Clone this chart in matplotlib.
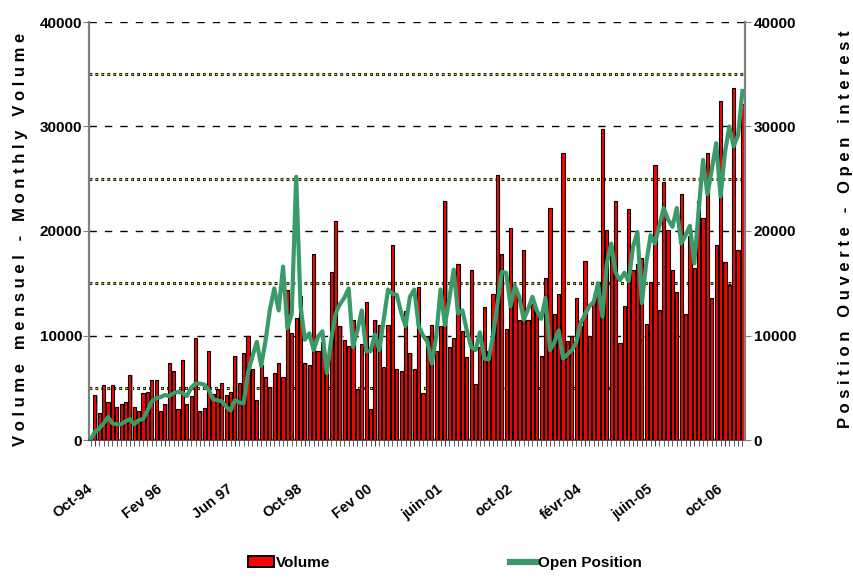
import numpy as np
import pandas as pd
import matplotlib
matplotlib.use("Agg")
import matplotlib.pyplot as plt
from matplotlib.patches import Patch
from matplotlib.lines import Line2D

RED, GREEN, YEL, AXGREY = "#ff0000", "#3a9a6a", "#f4f400", "#808080"
FONT = "Liberation Sans"
plt.rcParams["lines.scale_dashes"] = False

# monthly categories, Sep-94 (contract start, zero) to Feb-07
months = pd.period_range("1994-09", "2007-02", freq="M").strftime("%Y-%m").tolist()

volume = [0,
    4300, 2600, 5300, 3600, 5300, 3200, 3400, 3600, 6200, 3200, 2800, 4500, 4600, 5700, 5700, 2800,
    3400, 7400, 6600, 3000, 7700, 3400, 4200, 9800, 2800, 3100, 8500, 4400, 4900, 5500, 4300, 4600,
    8000, 5500, 8300, 10000, 6800, 3800, 7200, 6000, 5100, 6400, 7400, 6000, 14400, 10200, 11700, 13800,
    7400, 7200, 17800, 8500, 9400, 7900, 16100, 21000, 10900, 9600, 9000, 11500, 4900, 9200, 13200, 3000,
    11500, 11000, 7000, 11000, 18700, 6800, 6600, 12300, 8300, 6800, 14600, 4500, 10000, 11000, 8500, 10900,
    22900, 8900, 9800, 16800, 10400, 7900, 16300, 5400, 8900, 12700, 8500, 14000, 25400, 17800, 10600, 20300,
    14500, 11500, 18200, 11500, 13000, 12400, 8000, 15500, 22200, 12100, 14000, 27500, 9500, 10000, 13600, 10900,
    17100, 10000, 13400, 15100, 29800, 20100, 18500, 22900, 9300, 12800, 22100, 16300, 16800, 17400, 11100, 15100,
    26300, 12400, 24700, 20100, 16300, 14200, 23500, 12100, 19500, 16500, 22900, 21200, 27500, 13600, 18700, 32400,
    17000, 14800, 33700, 18200, 32200]

open_position = [0,
    800, 1100, 1600, 2200, 1600, 1500, 1500, 1800, 2000, 1500,
    1900, 2000, 2800, 3700, 4000, 4100, 4300, 4200, 4500, 4600,
    4500, 4200, 5000, 5400, 5400, 5300, 4800, 3900, 3800, 3700,
    3200, 2800, 3800, 3600, 3500, 6500, 8000, 9400, 7100, 9500,
    12500, 14500, 12400, 16600, 10700, 12100, 25200, 12800, 9600, 10200,
    8600, 9900, 10400, 6400, 9600, 12100, 13000, 13600, 14500, 8900,
    10500, 12400, 8500, 8500, 10100, 8600, 11500, 14400, 14000, 13900,
    12200, 10900, 13700, 14400, 10900, 10000, 9400, 7300, 9900, 14400,
    11000, 13500, 16300, 12100, 12400, 10500, 8900, 8600, 10300, 7800,
    7700, 10000, 13000, 16100, 16000, 12800, 14700, 13700, 11500, 12500,
    13700, 12400, 11600, 13600, 8600, 9300, 10500, 7800, 8200, 8600,
    9300, 11200, 12000, 12800, 13200, 15000, 11800, 16900, 18800, 16000,
    15300, 16000, 15200, 18500, 19900, 13100, 16900, 19600, 18800, 20500,
    22200, 21100, 20400, 22200, 18800, 19600, 20500, 16900, 22000, 26800,
    23500, 25900, 28400, 23300, 27500, 30000, 28100, 29200, 33400]

tick_months = ["1994-10", "1996-02", "1997-06", "1998-10", "2000-02",
               "2001-06", "2002-10", "2004-02", "2005-06", "2006-10"]
tick_labels = ["Oct-94", "Fev 96", "Jun 97", "Oct-98", "Fev 00",
               "juin-01", "oct-02", "févr-04", "juin-05", "oct-06"]
y_ticks = [0, 10000, 20000, 30000, 40000]
dash_levels = [10000, 20000, 30000, 40000]
dot_levels = [5000, 15000, 25000, 35000]

fig = plt.figure(figsize=(8.54, 5.78), dpi=100)
fig.patch.set_facecolor("white")
ax = fig.add_axes([89 / 854, 1 - 440 / 578, (745.5 - 89) / 854, (440 - 22) / 578])
x = np.arange(len(months))

# grid: black dashes on the 10k, black/yellow dots on the 5k
for v in dash_levels:
    ax.axhline(v, color="black", lw=1.0, dashes=(5.3, 5.8), zorder=1)
for v in dot_levels:
    ax.axhline(v, color="black", lw=2.2, linestyle=(0, (2.0, 2.3)), zorder=1)
    ax.axhline(v, color=YEL, lw=1.0, linestyle=(3.8, (1.0, 3.3)), zorder=1.1)

# bars with a grey drop shadow
ax.bar(x + 0.25, volume, width=0.72, color="#a8a8a8", zorder=2)
ax.bar(x, volume, width=0.72, color=RED, edgecolor="black", lw=0.8, zorder=3)

ax.set_xlim(-0.35, 149.7)
ax.set_ylim(0, 40000)
ax.set_yticks(y_ticks)
ax.set_yticklabels([str(t) for t in y_ticks], fontfamily=FONT, fontweight="bold", fontsize=11)
ax.set_xticks([months.index(m) for m in tick_months])
ax.set_xticklabels(tick_labels, rotation=38, ha="right", va="top",
                   fontfamily=FONT, fontweight="bold", fontsize=10.5)
ax.set_xticks(x, minor=True)
ax.tick_params(axis="x", which="both", length=4, color="#444444", pad=26)
ax.tick_params(axis="y", length=4, color=AXGREY, pad=1)
for s in ["top", "right"]:
    ax.spines[s].set_visible(False)
ax.spines["left"].set_color(AXGREY); ax.spines["left"].set_linewidth(1.6)
ax.spines["bottom"].set_color("#333333"); ax.spines["bottom"].set_linewidth(1.2)

# open position on the right axis
ax2 = ax.twinx()
ax2.plot(x, open_position, color=GREEN, lw=3.0, zorder=5)
ax2.set_ylim(0, 40000)
ax2.set_yticks(y_ticks)
ax2.set_yticklabels([str(t) for t in y_ticks], fontfamily=FONT, fontweight="bold", fontsize=11)
ax2.tick_params(axis="y", length=4, color=AXGREY, pad=2)
for s in ["top", "left", "bottom"]:
    ax2.spines[s].set_visible(False)
ax2.spines["right"].set_color(AXGREY); ax2.spines["right"].set_linewidth(1.6)

# spaced-out axis titles (right one runs off the figure edge as in the original)
fig.text(21 / 854, 1 - 446 / 578,
         "V o l u m e   m e n s u e l   -   M o n t h l y   V o l u m e",
         rotation=90, ha="center", va="bottom", fontsize=12, fontweight="bold",
         fontfamily=FONT)
fig.text(846 / 854, 1 - 428 / 578,
         "P o s i t i o n   O u v e r t e   -   O p e n   i n t e r e s t",
         rotation=90, ha="center", va="bottom", fontsize=12, fontweight="bold",
         fontfamily=FONT)

legend_kw = dict(loc="center left", frameon=False, borderpad=0, borderaxespad=0,
                 handlelength=1.7, handletextpad=0.15,
                 prop=dict(family=FONT, weight="bold", size=11))
fig.legend([Patch(facecolor=RED, edgecolor="black", lw=1.4)], ["Volume"],
           bbox_to_anchor=(248 / 854, 1 - 563 / 578), **legend_kw)
fig.legend([Line2D([], [], color=GREEN, lw=4.5)], ["Open Position"],
           bbox_to_anchor=(510 / 854, 1 - 563 / 578), **legend_kw)

fig.savefig("out.png", dpi=100, facecolor="white")
